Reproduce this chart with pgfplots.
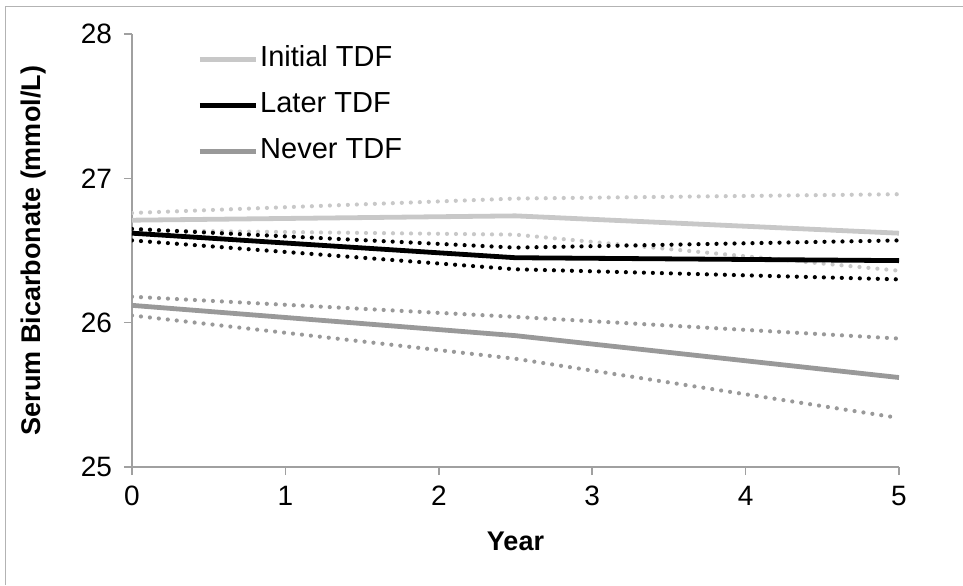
\documentclass[border=0pt]{standalone}
\usepackage{pgfplots}
\pgfplotsset{compat=1.18}
\usepackage{fontspec}
\setmainfont{Liberation Sans}

\definecolor{initgray}{HTML}{C8C8C8}
\definecolor{nevergray}{HTML}{999999}
\definecolor{axisgray}{HTML}{A0A0A0}

\begin{document}
\begin{tikzpicture}
% page = 963x585 px at 0.5pt per px
\path[use as bounding box] (-66pt,-59pt) rectangle (415.5pt,233.5pt);
\draw[axisgray!80, line width=0.8pt] (-63.25pt,-59pt) -- (-63.25pt,230.25pt) -- (415.5pt,230.25pt);

\begin{axis}[
scale only axis,
width=383.5pt, height=216.5pt,
xmin=0, xmax=5,
ymin=25, ymax=28,
xtick={0,1,2,3,4,5},
ytick={25,26,27,28},
axis x line=bottom,
axis y line=left,
axis line style={-, axisgray, line width=0.8pt},
tick style={axisgray, line width=0.8pt},
tick align=outside,
major tick length=4pt,
/pgf/number format/assume math mode=true,
ticklabel style={font=\fontsize{14}{16}\selectfont},
xticklabel style={yshift=-2pt},
yticklabel style={xshift=-2.5pt},
xlabel={Year},
ylabel={Serum Bicarbonate (mmol/L)},
label style={font=\fontsize{13.5}{15}\selectfont\bfseries},
xlabel style={at={(axis description cs:0.5,-0.171)}, anchor=center},
ylabel style={at={(axis description cs:-0.129,0.5)}, anchor=center},
legend style={
  at={(axis description cs:0.0848,0.976)}, anchor=north west,
  draw=none, fill=none, inner sep=0pt,
  font=\fontsize{14.5}{16}\selectfont,
  row sep=8pt,
  nodes={inner sep=1pt, text height=10pt, text depth=3pt, anchor=west},
},
legend cell align=left,
legend image code/.code={\draw[#1] (0pt,0pt) -- (28pt,0pt);},
solid/.style={line width=2.4pt},
dots/.style={line width=2.1pt, line cap=round, dash pattern=on 0pt off 4.5pt},
]

% confidence bounds (dotted)
\addplot[dots, initgray, forget plot] coordinates {(0,26.76) (2.5,26.86) (5,26.89)};
\addplot[dots, initgray, forget plot] coordinates {(0,26.64) (2.5,26.61) (5,26.36)};
\addplot[dots, black, forget plot] coordinates {(0,26.65) (2.5,26.52) (5,26.57)};
\addplot[dots, black, forget plot] coordinates {(0,26.57) (2.5,26.37) (5,26.30)};
\addplot[dots, nevergray, forget plot] coordinates {(0,26.18) (2.5,26.04) (5,25.89)};
\addplot[dots, nevergray, forget plot] coordinates {(0,26.05) (2.5,25.75) (5,25.34)};

% estimates
\addplot[solid, initgray] coordinates {(0,26.71) (2.5,26.74) (5,26.62)};
\addplot[solid, black] coordinates {(0,26.62) (2.5,26.45) (5,26.43)};
\addplot[solid, nevergray] coordinates {(0,26.12) (2.5,25.91) (5,25.62)};

\legend{Initial TDF, Later TDF, Never TDF}
\end{axis}
\end{tikzpicture}
\end{document}
